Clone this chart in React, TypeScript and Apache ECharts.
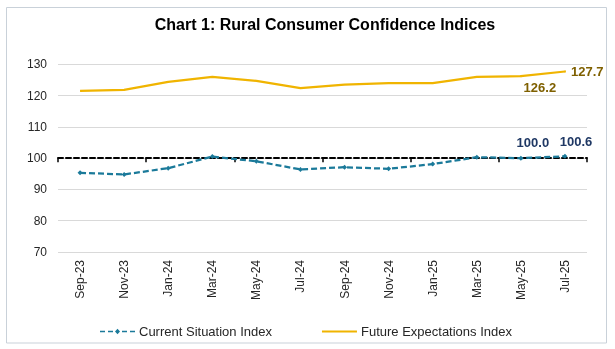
import React, { useEffect, useRef } from "react";
import * as echarts from "echarts";

const categories = ["Sep-23", "Nov-23", "Jan-24", "Mar-24", "May-24", "Jul-24", "Sep-24", "Nov-24", "Jan-25", "Mar-25", "May-25", "Jul-25"];
const currentSituation = [95.3, 94.8, 96.8, 100.5, 99.0, 96.4, 97.1, 96.6, 98.1, 100.3, 100.0, 100.6];
const futureExpectations = [121.5, 121.8, 124.4, 126.0, 124.7, 122.4, 123.5, 124.0, 124.0, 126.0, 126.2, 127.7];
const yTicks = { min: 70, max: 130, interval: 10 };
const titleText = "Chart 1: Rural Consumer Confidence Indices";

const FONT = "'Liberation Sans', Arial, sans-serif";

const dashedIcon =
  "path://M0,2 h5 v1.6 h-5 z M8,2 h5 v1.6 h-5 z M22,2 h5 v1.6 h-5 z M30,2 h5 v1.6 h-5 z M17.5,0 L20,2.8 L17.5,5.6 L15,2.8 z";
const solidIcon = "path://M0,0 h35 v2.2 h-35 z";

export default function App() {
  const ref = useRef<HTMLDivElement>(null);
  useEffect(() => {
    if (!ref.current) return;
    const chart = echarts.init(ref.current, null, { renderer: "svg" });
    const n = categories.length;
    const currData = currentSituation.map((v, i) => {
      if (i === n - 2) return { value: v, label: { show: true, position: "top", offset: [12, -2], formatter: () => v.toFixed(1) } };
      if (i === n - 1) return { value: v, label: { show: true, position: "top", offset: [11, -1], formatter: () => v.toFixed(1) } };
      return v;
    });
    const futData = futureExpectations.map((v, i) => {
      if (i === n - 2) return { value: v, symbol: "circle", symbolSize: 2, label: { show: true, position: "bottom", offset: [19, -1], formatter: () => v.toFixed(1) } };
      if (i === n - 1) return { value: v, symbol: "circle", symbolSize: 2, label: { show: true, position: "right", offset: [0, 0], formatter: () => v.toFixed(1) } };
      return { value: v, symbol: "none" };
    });
    chart.setOption({
      animation: false,
      textStyle: { fontFamily: FONT },
      graphic: [
        {
          type: "rect",
          shape: { x: 6.5, y: 7.5, width: 600, height: 335.5 },
          style: { fill: "none", stroke: "#C9D1D9", lineWidth: 1 },
          silent: true,
        },
        {
          type: "text",
          x: 325,
          y: 24,
          style: {
            text: titleText,
            fontFamily: FONT,
            fontWeight: "bold",
            fontSize: 16,
            fill: "#000000",
            textAlign: "center",
            textVerticalAlign: "middle",
          },
        },
      ],
      grid: { left: 58, right: 28, top: 64.3, bottom: 97, containLabel: false },
      legend: {
        left: 100,
        top: 325,
        padding: 0,
        itemWidth: 35,
        itemHeight: 14,
        itemGap: 50,
        textStyle: { fontFamily: FONT, fontSize: 13, color: "#262626", padding: [0, 0, 0, -1] },
        data: [
          { name: "Current Situation Index", icon: dashedIcon },
          { name: "Future Expectations Index", icon: solidIcon },
        ],
      },
      xAxis: [
        {
          type: "category",
          data: categories,
          position: "bottom",
          boundaryGap: true,
          axisLine: { show: false },
          axisTick: { show: false },
          axisLabel: { rotate: 90, fontSize: 12, color: "#262626", margin: 8, fontFamily: FONT, interval: 0 },
        },
        {
          type: "category",
          data: categories,
          position: "bottom",
          offset: -93.85,
          boundaryGap: true,
          axisLine: { show: true, lineStyle: { color: "#000000", width: 2, type: [5, 3] } },
          axisTick: { show: true, length: 4, lineStyle: { color: "#000000", width: 1.5 } },
          axisLabel: { show: false },
        },
      ],
      yAxis: {
        type: "value",
        min: yTicks.min,
        max: yTicks.max,
        interval: yTicks.interval,
        axisLine: { show: false },
        axisTick: { show: false },
        axisLabel: { fontSize: 12, color: "#262626", margin: 11, fontFamily: FONT },
        splitLine: { lineStyle: { color: "#D9D9D9", width: 1 } },
      },
      series: [
        {
          name: "Future Expectations Index",
          type: "line",
          xAxisIndex: 0,
          data: futData,
          showSymbol: true,
          lineStyle: { color: "#F0B400", width: 2.25 },
          itemStyle: { color: "#F0B400" },
          label: { fontFamily: FONT, fontSize: 13, fontWeight: "bold", color: "#7F6000", distance: 5 },
          z: 3,
        },
        {
          name: "Current Situation Index",
          type: "line",
          xAxisIndex: 0,
          data: currData,
          symbol: "diamond",
          symbolSize: 5,
          showSymbol: true,
          lineStyle: { color: "#1B7A9A", width: 2.25, type: [6, 3] },
          itemStyle: { color: "#1B7A9A" },
          label: { fontFamily: FONT, fontSize: 13, fontWeight: "bold", color: "#1F3864", distance: 5 },
          z: 4,
        },
      ],
    });
    return () => chart.dispose();
  }, []);
  return <div ref={ref} style={{ position: "fixed", left: 0, top: 0, width: 615, height: 349 }} />;
}
